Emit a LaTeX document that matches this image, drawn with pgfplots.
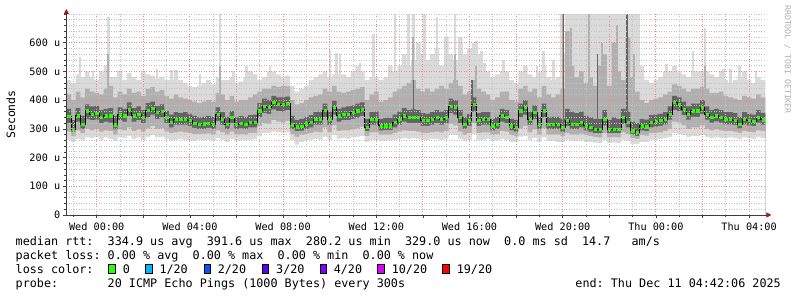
\documentclass[border=0pt]{standalone}
\usepackage{pgfplots}
\pgfplotsset{compat=1.18}
\usepackage{pgfplotstable}
\usetikzlibrary{arrows.meta}
\usepackage{fontspec}
\setmainfont{DejaVu Sans Mono}
\newfontfamily\mono{DejaVu Sans Mono}
\definecolor{smokeA}{RGB}{218,218,218}
\definecolor{smokeB}{RGB}{176,176,176}
\definecolor{smokeC}{RGB}{100,100,100}
\definecolor{majgrid}{RGB}{235,140,140}
\definecolor{mingrid}{RGB}{195,195,195}
\definecolor{arrowred}{RGB}{150,30,30}
\definecolor{axisgray}{RGB}{60,60,60}
\definecolor{lc0}{RGB}{38,255,0}
\definecolor{lc1}{RGB}{0,184,255}
\definecolor{lc2}{RGB}{0,89,255}
\definecolor{lc3}{RGB}{94,0,255}
\definecolor{lc4}{RGB}{126,0,255}
\definecolor{lc10}{RGB}{221,0,255}
\definecolor{lc19}{RGB}{255,0,0}
\pgfplotstableread{
x mn p10 p25 med p75 p90 mx
-1.3 262 290 320 345 370 420 470
-1.1 255 275 290 300 330 400 460
-0.9 265 295 325 346 372 430 490
-0.7 260 285 300 317 345 410 480
-0.5 270 300 335 363 385 440 500
-0.3 268 295 330 352 378 430 480
-0.1 272 300 332 355 380 425 470
0.1 262 290 320 340 365 420 500
0.3 270 295 325 346 370 440 520
0.5 265 292 322 346 372 450 480
0.7 258 280 298 314 345 410 480
0.9 270 298 330 352 375 430 500
1.1 268 295 325 346 370 420 470
1.3 275 305 345 369 392 440 495
1.5 265 292 325 346 372 425 480
1.7 270 298 330 352 378 430 470
1.9 262 290 320 340 365 415 500
2.1 272 302 340 365 390 440 490
2.3 278 310 350 372 395 445 485
2.5 270 300 335 357 380 430 475
2.7 272 302 340 362 385 435 480
2.9 265 290 320 340 362 415 470
3.1 260 285 305 323 350 405 470
3.3 262 288 315 334 358 420 505
3.5 265 290 315 334 355 410 470
3.7 262 288 315 334 358 405 460
3.9 260 285 310 329 352 400 450
4.1 258 282 303 320 345 395 445
4.3 262 282 300 317 340 390 450
4.5 260 283 300 318 342 395 460
4.7 262 284 303 320 345 400 470
4.9 258 280 300 317 342 395 455
5.1 268 295 328 352 375 425 480
5.3 262 288 315 334 358 420 470
5.5 255 280 300 317 342 400 470
5.7 265 290 320 340 362 415 480
5.9 258 280 300 317 340 395 460
6.1 260 282 302 320 345 400 465
6.3 260 280 300 317 342 400 480
6.5 262 285 305 323 348 410 500
6.7 265 286 305 323 350 420 490
6.9 275 310 340 363 390 430 470
7.1 285 320 355 380 405 440 480
7.3 285 318 352 375 400 440 500
7.5 290 330 368 392 415 450 500
7.7 288 325 362 386 410 445 490
7.9 285 322 360 386 410 450 480
8.1 288 328 365 390 412 448 485
8.3 262 282 300 315 345 400 450
8.5 245 272 292 308 330 385 430
8.7 255 278 294 310 335 390 440
8.9 260 282 300 318 342 400 450
9.1 262 285 305 323 348 410 470
9.3 265 290 315 334 358 415 480
9.5 262 288 315 334 360 420 490
9.7 272 305 342 365 388 440 500
9.9 262 288 315 334 360 430 480
10.1 278 312 350 375 398 450 490
10.3 265 292 325 346 370 430 490
10.5 268 295 330 352 375 425 490
10.7 265 295 330 352 378 430 480
10.9 270 298 335 357 382 435 500
11.1 272 302 340 363 388 440 520
11.3 275 308 345 369 392 445 500
11.5 255 275 292 305 335 400 470
11.7 262 288 315 334 358 420 480
11.9 262 288 315 334 360 430 480
12.1 258 278 295 311 335 395 470
12.3 258 280 296 311 338 400 480
12.5 260 280 296 311 338 410 520
12.7 262 285 305 323 350 430 500
12.9 265 290 315 334 360 440 520
13.1 268 295 325 346 372 450 560
13.3 265 292 320 340 365 460 520
13.5 268 292 320 340 368 470 540
13.7 265 290 320 340 365 440 600
13.9 262 286 310 329 355 430 560
14.1 262 286 310 329 352 440 540
14.3 265 288 315 334 358 430 560
14.5 265 290 320 340 365 440 580
14.7 262 288 315 334 360 450 520
14.9 265 292 320 340 365 440 620
15.1 280 318 355 380 405 460 560
15.3 278 312 350 375 400 470 540
15.5 265 290 320 340 365 450 620
15.7 258 280 300 317 342 420 560
15.9 262 285 310 329 352 430 580
16.1 282 320 360 386 410 470 600
16.3 262 285 310 329 355 440 560
16.5 262 288 315 334 358 430 530
16.7 265 288 315 334 358 420 500
16.9 258 278 295 311 335 400 480
17.1 260 282 300 317 342 410 490
17.3 265 292 325 346 370 430 500
17.5 262 290 320 340 365 430 500
17.7 255 278 295 311 335 400 470
17.9 255 275 290 306 330 395 460
18.1 272 302 340 363 388 440 500
18.3 275 310 350 375 400 450 520
18.5 262 288 315 334 360 430 490
18.7 268 298 335 357 382 440 480
18.9 255 280 300 317 342 410 500
19.1 270 302 340 363 388 450 520
19.3 258 280 300 317 342 420 480
19.5 258 280 300 317 342 410 470
19.7 255 280 300 317 342 420 480
19.9 255 275 290 306 335 440 560
20.1 262 285 310 329 370 640 700
20.3 258 280 300 317 360 520 700
20.5 258 280 300 317 355 480 700
20.7 260 283 305 323 360 500 700
20.9 255 278 295 311 345 460 700
21.1 255 275 290 306 340 480 700
21.3 252 272 285 300 335 450 700
21.5 250 270 285 300 335 520 700
21.7 262 285 312 334 365 560 700
21.9 250 270 285 300 330 450 700
22.1 252 272 285 300 340 600 700
22.3 250 270 285 300 335 500 700
22.5 262 288 318 340 370 470 700
22.7 258 282 305 323 360 620 700
22.9 248 268 280 294 325 480 700
23.1 248 265 275 288 320 430 700
23.3 255 278 295 311 335 400 520
23.5 255 276 292 308 332 390 470
23.7 262 285 305 323 348 400 460
23.9 262 286 308 326 350 405 470
24.1 265 288 310 329 352 410 480
24.3 268 292 316 334 358 420 500
24.5 272 300 332 352 378 430 500
24.7 285 325 365 392 415 455 520
24.9 282 322 362 386 410 450 500
25.1 278 312 348 369 395 440 490
25.3 272 300 332 352 378 430 480
25.5 275 305 342 363 388 440 500
25.7 275 305 342 363 388 440 500
25.9 278 312 352 375 400 445 500
26.1 272 300 332 352 378 440 500
26.3 268 295 322 340 365 425 490
26.5 270 298 326 346 370 425 480
26.7 268 295 322 340 365 430 500
26.9 268 292 316 334 358 415 470
27.1 270 292 316 334 358 410 460
27.3 268 290 314 331 355 405 470
27.5 265 285 302 317 342 400 480
27.7 270 292 316 334 358 415 500
27.9 268 290 312 329 352 410 470
28.1 265 288 310 326 350 405 460
28.3 272 295 322 340 365 420 480
28.5 268 292 315 332 356 410 470
28.7 268 292 315 332 356 410 470
}\data
\begin{document}
\begin{tikzpicture}
\path[use as bounding box] (0,0) rectangle (797bp,297bp);
\begin{axis}[
  at={(66.4bp,82bp)}, anchor=south west,
  scale only axis, width=699bp, height=201bp,
  xmin=-1.3, xmax=28.7, ymin=0, ymax=700,
  axis lines=left, axis on top,
  axis line style={draw=axisgray, line width=0.9bp},
  x axis line style={-{Triangle[length=5bp,width=5bp,color=arrowred]}, shorten >=-6bp},
  y axis line style={-{Triangle[length=5bp,width=5bp,color=arrowred]}, shorten >=-5bp},
  xtick={0,2,...,28},
  xticklabels={Wed 00:00,,Wed 04:00,,Wed 08:00,,Wed 12:00,,Wed 16:00,,Wed 20:00,,Thu 00:00,,Thu 04:00},
  minor xtick={-1,1,...,27},
  ytick={0,100,...,600},
  yticklabels={0,100 u,200 u,300 u,400 u,500 u,600 u},
  minor ytick={20,40,...,700},
  grid=both,
  major grid style={draw=majgrid, line width=0.8bp, dash pattern=on 1bp off 1.5bp},
  minor grid style={draw=mingrid, line width=0.8bp, dash pattern=on 1bp off 1.5bp},
  tick align=outside, major tick length=3bp, minor tick length=2bp,
  tick style={draw=axisgray, line width=0.6bp},
  ticklabel style={font=\mono\fontsize{10.2bp}{12bp}\selectfont, text=black},
  xticklabel style={inner sep=0pt, anchor=base, yshift=-13bp},
  yticklabel style={inner sep=0pt, anchor=east, xshift=-3bp},
]
\addplot[fill=smokeA, draw=none, const plot mark left] table[x=x,y=mx]{\data} \closedcycle;
% thin light spikes (outliers)
\addplot[ycomb, draw=smokeA, line width=2.6bp, mark=none] coordinates {
(-0.72,550) (-0.45,490) (-0.15,500) (0.5,690) (0.93,500) (2.0,495) (2.58,510)
(3.22,505) (4.43,490) (5.29,700) (5.86,500) (6.44,520) (7.44,520) (7.87,480)
(10.01,575) (10.3,565) (10.44,560) (11.3,530) (11.87,630) (12.8,700) (13.37,700)
(13.59,700) (14.06,700) (14.6,690) (15.38,700) (15.67,600) (16.3,605) (16.52,570)
(17.45,540) (18.9,520) (19.17,570) (19.6,540) (19.95,700) (23.25,700) (24.46,527)
(25.6,570) (26.1,650) (26.9,510) (27.2,510) (27.6,520) (28.3,500)
};
\addplot[fill=smokeB, draw=none, const plot mark left] table[x=x,y=p90]{\data} \closedcycle;
% medium-grey spikes
\addplot[ycomb, draw=smokeB, line width=2bp, mark=none] coordinates {
(0.5,560) (5.29,520) (13.59,620) (15.38,560) (16.3,520) (20.03,700) (20.35,650)
(21.15,700) (21.7,600) (22.35,660) (22.75,700) (23.05,560) (26.1,520)
};
\addplot[fill=smokeC, draw=none, const plot mark left] table[x=x,y=p75]{\data} \closedcycle;
\addplot[ycomb, draw=smokeC, line width=1.6bp, mark=none] coordinates {
(20.03,700) (22.75,700) (21.5,560) (13.59,470) (16.1,470)
};
\addplot[fill=smokeB, draw=none, const plot mark left] table[x=x,y=p25]{\data} \closedcycle;
\addplot[fill=smokeA, draw=none, const plot mark left] table[x=x,y=p10]{\data} \closedcycle;
\addplot[fill=white, draw=none, const plot mark left] table[x=x,y=mn]{\data} \closedcycle;
\addplot[black, line width=0.7bp, const plot mark left] table[x=x,y=med]{\data};
\addplot[only marks, mark=square*, mark size=1.15bp, color=lc0, restrict x to domain=-2:28.6] table[x expr=\thisrow{x}+0.1,y=med]{\data};
\end{axis}
\node[rotate=90, inner sep=0pt, font=\mono\fontsize{11.5bp}{13bp}\selectfont] at (10.8bp,182.5bp) {Seconds};
\node[rotate=-90, anchor=west, inner sep=0pt, text={rgb,255:red,175;green,175;blue,175}, font=\mono\fontsize{8.2bp}{10bp}\selectfont] at (787.5bp,292bp) {RRDTOOL~/~TOBI~OETIKER};
\begin{scope}[every node/.style={inner sep=0pt, anchor=base west, font=\mono\fontsize{11.76bp}{14bp}\selectfont}]
\node at (15.5bp,51.7bp) {median~rtt:~~334.9~us~avg~~391.6~us~max~~280.2~us~min~~329.0~us~now~~0.0~ms~sd~~14.7~~~am/s};
\node at (15.5bp,37.7bp) {packet~loss:~0.00~\%~avg~~0.00~\%~max~~0.00~\%~min~~0.00~\%~now};
\node at (15.5bp,23.7bp) {loss~color:};
\node at (15.5bp,9.7bp) {probe:~~~~~~~20~ICMP~Echo~Pings~(1000~Bytes)~every~300s};
\node[anchor=base east] at (781bp,9.7bp) {end:~Thu~Dec~11~04:42:06~2025};
\foreach \bx/\tx/\col/\lab in {108.7/122.6/lc0/0, 145.7/159.3/lc1/1\slash20, 204/217.6/lc2/2\slash20, 262/276/lc3/3\slash20, 320/333.6/lc4/4\slash20, 377.7/391.6/lc10/10\slash20, 442.7/456.6/lc19/19\slash20}{
  \filldraw[fill=\col, draw=black, line width=0.8bp] (\bx bp,24bp) rectangle ++(6.6bp,8.2bp);
  \node at (\tx bp,23.7bp) {\lab};
}
\end{scope}
\end{tikzpicture}
\end{document}
